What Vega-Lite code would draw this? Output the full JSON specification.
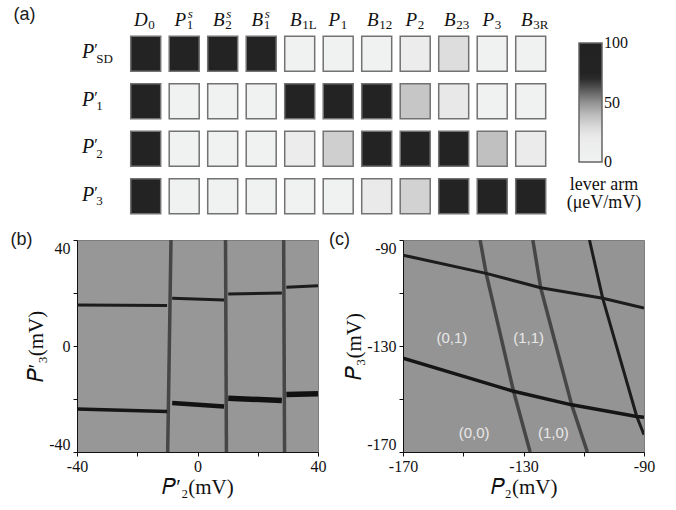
{
"$schema": "https://vega.github.io/schema/vega-lite/v6.json",
"padding": {"left": 10, "top": 5, "right": 5, "bottom": 5},
"background": "white",
"spacing": 10,
"columns": 1,
"config": {"view": {"stroke": null}},
"concat": [
{
 "width": {"step": 38.5},
 "height": {"step": 47.5},
 "title": {"text": "(a)", "anchor": "start", "frame": "group", "dx": -63.5, "offset": -16, "font": "Liberation Sans", "fontSize": 18, "fontWeight": "normal", "color": "#1a1a1a"},
 "view": {"stroke": null},
 "layer": [
  {
   "data": {"values": [
    {"r":"PSD","c":"D0","v":85},{"r":"PSD","c":"P1s","v":85},{"r":"PSD","c":"B2s","v":85},{"r":"PSD","c":"B1s","v":85},{"r":"PSD","c":"B1L","v":2},{"r":"PSD","c":"P1","v":2},{"r":"PSD","c":"B12","v":2},{"r":"PSD","c":"P2","v":16},{"r":"PSD","c":"B23","v":28},{"r":"PSD","c":"P3","v":2},{"r":"PSD","c":"B3R","v":2},
    {"r":"P1p","c":"D0","v":85},{"r":"P1p","c":"P1s","v":2},{"r":"P1p","c":"B2s","v":2},{"r":"P1p","c":"B1s","v":2},{"r":"P1p","c":"B1L","v":85},{"r":"P1p","c":"P1","v":85},{"r":"P1p","c":"B12","v":85},{"r":"P1p","c":"P2","v":36},{"r":"P1p","c":"B23","v":23},{"r":"P1p","c":"P3","v":2},{"r":"P1p","c":"B3R","v":2},
    {"r":"P2p","c":"D0","v":85},{"r":"P2p","c":"P1s","v":2},{"r":"P2p","c":"B2s","v":2},{"r":"P2p","c":"B1s","v":2},{"r":"P2p","c":"B1L","v":16},{"r":"P2p","c":"P1","v":33},{"r":"P2p","c":"B12","v":85},{"r":"P2p","c":"P2","v":85},{"r":"P2p","c":"B23","v":85},{"r":"P2p","c":"P3","v":38},{"r":"P2p","c":"B3R","v":19},
    {"r":"P3p","c":"D0","v":85},{"r":"P3p","c":"P1s","v":2},{"r":"P3p","c":"B2s","v":2},{"r":"P3p","c":"B1s","v":2},{"r":"P3p","c":"B1L","v":2},{"r":"P3p","c":"P1","v":2},{"r":"P3p","c":"B12","v":22},{"r":"P3p","c":"P2","v":32},{"r":"P3p","c":"B23","v":85},{"r":"P3p","c":"P3","v":85},{"r":"P3p","c":"B3R","v":85}
   ]},
   "mark": {"type": "rect", "stroke": "#727272", "strokeWidth": 1.5},
   "encoding": {
    "x": {"field": "c", "type": "nominal", "axis": null, "scale": {"domain": ["lbl","D0","P1s","B2s","B1s","B1L","P1","B12","P2","B23","P3","B3R"], "paddingInner": 0.221, "paddingOuter": 0.395}},
    "y": {"field": "r", "type": "nominal", "axis": null, "scale": {"domain": ["PSD","P1p","P2p","P3p"], "paddingInner": 0.263, "paddingOuter": 0.1315}},
    "color": {"field": "v", "type": "quantitative",
     "scale": {"type": "linear", "interpolate": "rgb", "domain": [0, 22, 30, 40, 50, 60, 68, 72, 100], "range": ["#f1f2f2","#eaeaea","#d8d8d8","#bababa","#929292","#5e5e5e","#333333","#232323","#222222"]},
     "legend": {"orient": "none", "legendX": 490, "legendY": 13, "direction": "vertical", "gradientLength": 119, "gradientThickness": 23, "gradientStrokeColor": "#666666", "gradientStrokeWidth": 1.5, "values": [0, 50, 100], "labelFont": "Liberation Serif", "labelFontSize": 16, "labelColor": "#111111", "labelOffset": 2, "title": ["lever arm", "(μeV/mV)"], "titleOrient": "bottom", "titleFont": "Liberation Serif", "titleFontSize": 18, "titleFontWeight": "normal", "titleColor": "#111111", "titleAnchor": "middle", "titleAlign": "center", "titlePadding": 6, "titleLineHeight": 18,
      "encode": {"labels": {"update": {"baseline": {"value": "middle"}}}}}
    }
   }
  },
  {
   "data": {"values": [
    {"c":"D0","main":"D","sub":"0","sup":""},
    {"c":"P1s","main":"P","sub":"1","sup":"s"},
    {"c":"B2s","main":"B","sub":"2","sup":"s"},
    {"c":"B1s","main":"B","sub":"1","sup":"s"},
    {"c":"B1L","main":"B","sub":"1L","sup":""},
    {"c":"P1","main":"P","sub":"1","sup":""},
    {"c":"B12","main":"B","sub":"12","sup":""},
    {"c":"P2","main":"P","sub":"2","sup":""},
    {"c":"B23","main":"B","sub":"23","sup":""},
    {"c":"P3","main":"P","sub":"3","sup":""},
    {"c":"B3R","main":"B","sub":"3R","sup":""}
   ]},
   "layer": [
    {"mark": {"type": "text", "font": "Liberation Serif", "fontStyle": "italic", "fontSize": 19, "align": "right", "baseline": "alphabetic", "dx": 2, "dy": -27.5, "color": "#111111"},
     "encoding": {"x": {"field": "c", "type": "nominal"}, "y": {"datum": "PSD", "type": "nominal"}, "text": {"field": "main"}}},
    {"mark": {"type": "text", "font": "Liberation Serif", "fontSize": 13, "align": "left", "baseline": "alphabetic", "dx": 2.5, "dy": -24.5, "color": "#111111"},
     "encoding": {"x": {"field": "c", "type": "nominal"}, "y": {"datum": "PSD", "type": "nominal"}, "text": {"field": "sub"}}},
    {"mark": {"type": "text", "font": "Liberation Serif", "fontStyle": "italic", "fontSize": 13, "align": "left", "baseline": "alphabetic", "dx": 3.5, "dy": -36, "color": "#111111"},
     "encoding": {"x": {"field": "c", "type": "nominal"}, "y": {"datum": "PSD", "type": "nominal"}, "text": {"field": "sup"}}}
   ]
  },
  {
   "data": {"values": [
    {"r":"PSD","main":"P","prime":"′","sub":"SD"},
    {"r":"P1p","main":"P","prime":"′","sub":"1"},
    {"r":"P2p","main":"P","prime":"′","sub":"2"},
    {"r":"P3p","main":"P","prime":"′","sub":"3"}
   ]},
   "layer": [
    {"mark": {"type": "text", "font": "Liberation Serif", "fontStyle": "italic", "fontSize": 20, "align": "right", "baseline": "alphabetic", "dx": -51.5, "dy": 4.5, "color": "#111111"},
     "encoding": {"x": {"datum": "D0", "type": "nominal"}, "y": {"field": "r", "type": "nominal"}, "text": {"field": "main"}}},
    {"mark": {"type": "text", "font": "Liberation Serif", "fontSize": 16, "align": "left", "baseline": "alphabetic", "dx": -51.5, "dy": 1.5, "color": "#111111"},
     "encoding": {"x": {"datum": "D0", "type": "nominal"}, "y": {"field": "r", "type": "nominal"}, "text": {"field": "prime"}}},
    {"mark": {"type": "text", "font": "Liberation Serif", "fontSize": 13, "align": "left", "baseline": "alphabetic", "dx": -49.5, "dy": 9, "color": "#111111"},
     "encoding": {"x": {"datum": "D0", "type": "nominal"}, "y": {"field": "r", "type": "nominal"}, "text": {"field": "sub"}}}
   ]
  }
 ]
},
{
 "spacing": 1,
 "hconcat": [
  {
   "width": 241, "height": 212,
   "title": {"text": "(b)", "anchor": "start", "frame": "group", "dx": -66.5, "offset": -9, "font": "Liberation Sans", "fontSize": 18, "fontWeight": "normal", "color": "#1a1a1a"},
   "view": {"fill": "#979797", "stroke": "#7d7d7d", "strokeWidth": 1},
   "data": {"values": [
    {"x": -8.8, "y": 40, "x2": -9.9, "y2": -40, "k": "vertical"},
    {"x": 9.3, "y": 40, "x2": 9.6, "y2": -40, "k": "vertical"},
    {"x": 28.6, "y": 40, "x2": 28.9, "y2": -40, "k": "vertical"},
    {"x": -40, "y": 15.5, "x2": -10.1, "y2": 15.3, "k": "upper"},
    {"x": -8.4, "y": 18.0, "x2": 8.8, "y2": 17.4, "k": "upper"},
    {"x": 10.2, "y": 19.6, "x2": 28.0, "y2": 20.0, "k": "upper"},
    {"x": 29.5, "y": 22.2, "x2": 40, "y2": 22.7, "k": "upper"},
    {"x": -40, "y": -23.8, "x2": -10.1, "y2": -24.7, "k": "lowerThin"},
    {"x": -8.4, "y": -21.5, "x2": 8.8, "y2": -22.8, "k": "lowerMid"},
    {"x": 10.2, "y": -19.7, "x2": 28.0, "y2": -20.6, "k": "lowerThick"},
    {"x": 29.5, "y": -18.3, "x2": 40, "y2": -18.0, "k": "lowerThick"}
   ]},
   "mark": {"type": "rule", "strokeCap": "butt", "clip": true},
   "encoding": {
    "x": {"field": "x", "type": "quantitative", "scale": {"domain": [-40, 40], "nice": false, "zero": false},
     "axis": {"values": [-40, -20, 0, 20, 40], "labelExpr": "datum.value % 40 == 0 ? (datum.value < 0 ? '-' + abs(datum.value) : '' + datum.value) : ''", "grid": false, "tickSize": 4, "tickColor": "#111111", "domainColor": "#111111", "labelFont": "Liberation Serif", "labelFontSize": 16, "labelColor": "#111111", "labelPadding": 2, "labelFlush": false, "title": "𝑃′₂(mV)", "titleFont": "Liberation Serif", "titleFontSize": 21, "titleFontWeight": "normal", "titleColor": "#111111", "titlePadding": 2}},
    "y": {"field": "y", "type": "quantitative", "scale": {"domain": [-40, 40], "nice": false, "zero": false},
     "axis": {"values": [-40, -20, 0, 20, 40], "labelExpr": "datum.value % 40 == 0 ? (datum.value < 0 ? '-' + abs(datum.value) : '' + datum.value) : ''", "grid": false, "tickSize": 4, "tickColor": "#111111", "domainColor": "#111111", "labelFont": "Liberation Serif", "labelFontSize": 16, "labelColor": "#111111", "labelPadding": 3, "labelFlush": true, "title": "𝑃′₃(mV)", "titleFont": "Liberation Serif", "titleFontSize": 21, "titleFontWeight": "normal", "titleColor": "#111111", "titlePadding": 2}},
    "x2": {"field": "x2"},
    "y2": {"field": "y2"},
    "color": {"field": "k", "type": "nominal", "legend": null, "scale": {"domain": ["vertical", "upper", "lowerThin", "lowerMid", "lowerThick"], "range": ["#464646", "#1c1c1c", "#151515", "#121212", "#111111"]}},
    "strokeWidth": {"field": "k", "type": "nominal", "legend": null, "scale": {"type": "ordinal", "domain": ["vertical", "upper", "lowerThin", "lowerMid", "lowerThick"], "range": [3.5, 3, 3.5, 4.5, 5.5]}}
   }
  },
  {
   "width": 241, "height": 212,
   "title": {"text": "(c)", "anchor": "start", "frame": "group", "dx": -74, "offset": -9, "font": "Liberation Sans", "fontSize": 18, "fontWeight": "normal", "color": "#1a1a1a"},
   "view": {"fill": "#949494", "stroke": "#7d7d7d", "strokeWidth": 1},
   "layer": [
    {
     "data": {"values": [
      {"id": "S1", "k": "steep", "o": 0, "x": -144.4, "y": -90},
      {"id": "S1", "k": "steep", "o": 1, "x": -142.4, "y": -102.6},
      {"id": "S1", "k": "steep", "o": 2, "x": -133.3, "y": -147.1},
      {"id": "S1", "k": "steep", "o": 3, "x": -127.8, "y": -170},
      {"id": "S2", "k": "steep", "o": 0, "x": -126.9, "y": -90},
      {"id": "S2", "k": "steep", "o": 1, "x": -124.3, "y": -108.0},
      {"id": "S2", "k": "steep", "o": 2, "x": -114.0, "y": -152.2},
      {"id": "S2", "k": "steep", "o": 3, "x": -108.8, "y": -170},
      {"id": "S3", "k": "faint", "o": 0, "x": -108.1, "y": -90},
      {"id": "S3", "k": "faint", "o": 1, "x": -103.7, "y": -112.0},
      {"id": "S3", "k": "faint", "o": 2, "x": -92.4, "y": -156.6},
      {"id": "S3", "k": "faint", "o": 3, "x": -90, "y": -163.5},
      {"id": "U1", "k": "upper", "o": 0, "x": -170, "y": -95.7},
      {"id": "U1", "k": "upper", "o": 1, "x": -142.4, "y": -102.6},
      {"id": "U1", "k": "upper", "o": 2, "x": -124.3, "y": -108.0},
      {"id": "U1", "k": "upper", "o": 3, "x": -103.7, "y": -112.0},
      {"id": "U1", "k": "upper", "o": 4, "x": -90, "y": -115.7},
      {"id": "U2", "k": "lower", "o": 0, "x": -170, "y": -134.6},
      {"id": "U2", "k": "lower", "o": 1, "x": -133.3, "y": -147.1},
      {"id": "U2", "k": "lower", "o": 2, "x": -114.0, "y": -152.2},
      {"id": "U2", "k": "lower", "o": 3, "x": -92.4, "y": -156.6},
      {"id": "U2", "k": "lower", "o": 4, "x": -90, "y": -156.9}
     ]},
     "mark": {"type": "line", "clip": true, "strokeCap": "butt", "strokeJoin": "round"},
     "encoding": {
      "x": {"field": "x", "type": "quantitative", "scale": {"domain": [-170, -90], "nice": false, "zero": false},
       "axis": {"values": [-170, -150, -130, -110, -90], "labelExpr": "(datum.value + 170) % 40 == 0 ? (datum.value < 0 ? '-' + abs(datum.value) : '' + datum.value) : ''", "grid": false, "tickSize": 4, "tickColor": "#111111", "domainColor": "#111111", "labelFont": "Liberation Serif", "labelFontSize": 16, "labelColor": "#111111", "labelPadding": 2, "labelFlush": false, "title": "𝑃₂(mV)", "titleFont": "Liberation Serif", "titleFontSize": 21, "titleFontWeight": "normal", "titleColor": "#111111", "titlePadding": 2}},
      "y": {"field": "y", "type": "quantitative", "scale": {"domain": [-170, -90], "nice": false, "zero": false},
       "axis": {"values": [-170, -150, -130, -110, -90], "labelExpr": "(datum.value + 170) % 40 == 0 ? (datum.value < 0 ? '-' + abs(datum.value) : '' + datum.value) : ''", "grid": false, "tickSize": 4, "tickColor": "#111111", "domainColor": "#111111", "labelFont": "Liberation Serif", "labelFontSize": 16, "labelColor": "#111111", "labelPadding": 3, "labelFlush": true, "title": "𝑃₃(mV)", "titleFont": "Liberation Serif", "titleFontSize": 21, "titleFontWeight": "normal", "titleColor": "#111111", "titlePadding": 2}},
      "detail": {"field": "id"},
      "order": {"field": "o"},
      "color": {"field": "k", "type": "nominal", "legend": null, "scale": {"domain": ["steep", "faint", "upper", "lower"], "range": ["#141414", "#3c3c3c", "#181818", "#121212"]}},
      "strokeWidth": {"field": "k", "type": "nominal", "legend": null, "scale": {"type": "ordinal", "domain": ["steep", "faint", "upper", "lower"], "range": [5, 3, 4, 6]}}
     }
    },
    {
     "data": {"values": [
      {"x": -153.8, "y": -126.8, "label": "(0,1)"},
      {"x": -128.3, "y": -126.8, "label": "(1,1)"},
      {"x": -146.4, "y": -162.8, "label": "(0,0)"},
      {"x": -120.1, "y": -162.8, "label": "(1,0)"}
     ]},
     "mark": {"type": "text", "font": "Liberation Sans", "fontSize": 15, "color": "#e8e8e8"},
     "encoding": {
      "x": {"field": "x", "type": "quantitative"},
      "y": {"field": "y", "type": "quantitative"},
      "text": {"field": "label"}
     }
    }
   ]
  }
 ]
}
]
}
